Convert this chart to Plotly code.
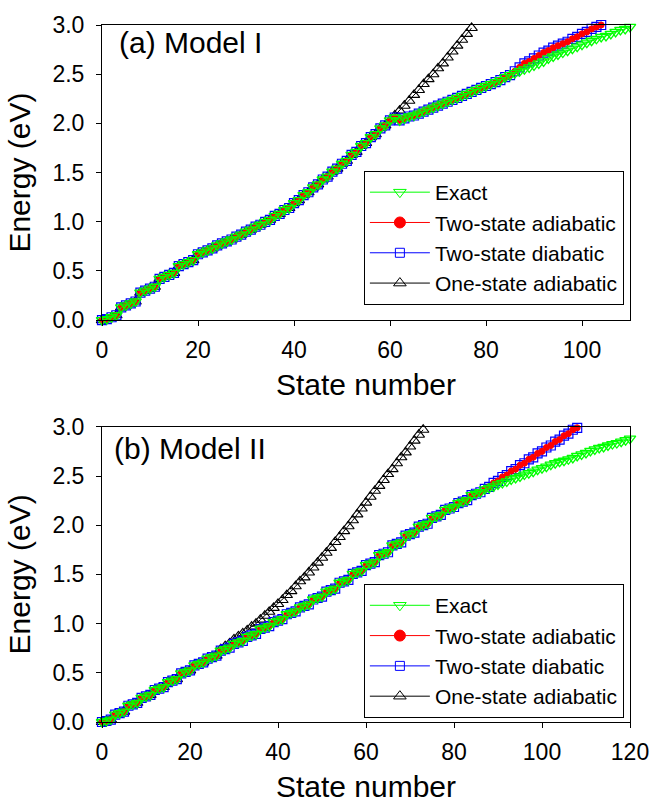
import plotly.graph_objects as go

# ---------------- data ----------------
# Model I : energies (eV) per state number
exact_I = [
    0.00, 0.01, 0.03, 0.05,   # 0-3
    0.13, 0.15, 0.17, 0.19,   # 4-7
    0.28, 0.30, 0.32, 0.34,   # 8-11
    0.42, 0.44, 0.46, 0.48,   # 12-15
    0.55, 0.57, 0.59, 0.61,   # 16-19
    0.67, 0.69, 0.71, 0.73,   # 20-23
    0.76, 0.78, 0.80, 0.82,   # 24-27
    0.85, 0.87, 0.90, 0.92,   # 28-31
    0.95, 0.97, 1.00, 1.02,   # 32-35
    1.06, 1.08, 1.12, 1.14,   # 36-39
    1.19, 1.22, 1.27, 1.30,   # 40-43
    1.35, 1.38, 1.43, 1.46,   # 44-47
    1.51, 1.54, 1.59, 1.62,   # 48-51
    1.68, 1.71, 1.77, 1.80,   # 52-55
    1.86, 1.89, 1.95, 1.98,   # 56-59
    2.03, 2.06, 2.03, 2.05,   # 60-63
    2.07, 2.08, 2.10, 2.12,   # 64-67
    2.14, 2.16, 2.18, 2.20,   # 68-71
    2.22, 2.24, 2.26, 2.28,   # 72-75
    2.30, 2.32, 2.34, 2.36,   # 76-79
    2.38, 2.40, 2.42, 2.44,   # 80-83
    2.47, 2.49, 2.51, 2.53,   # 84-87
    2.55, 2.57, 2.59, 2.61,   # 88-91
    2.63, 2.66, 2.68, 2.70,   # 92-95
    2.72, 2.74, 2.76, 2.78,   # 96-99
    2.80, 2.82, 2.84, 2.86,   # 100-103
    2.88, 2.89, 2.91, 2.93,   # 104-107
    2.95, 2.96, 2.98,         # 108-110
]
# two-state results follow the exact curve up to state 85, then:
two_state_tail_I = [2.53, 2.57, 2.61, 2.63, 2.66, 2.69, 2.72, 2.74, 2.77, 2.79,
                    2.81, 2.83, 2.86, 2.88, 2.91, 2.93, 2.96, 2.98, 3.00]  # 86-104
two_adiabatic_I = exact_I[:86] + two_state_tail_I
two_diabatic_I = exact_I[:86] + two_state_tail_I
# one-state adiabatic follows the exact curve up to state 60, then:
one_state_tail_I = [2.08, 2.13, 2.18, 2.23, 2.29, 2.34, 2.40, 2.45, 2.50, 2.56,
                    2.61, 2.67, 2.73, 2.79, 2.85, 2.91, 2.97]  # 61-77
one_adiabatic_I = exact_I[:61] + one_state_tail_I

# Model II
exact_II = [
    0.000, 0.010, 0.025, 0.075, 0.090, 0.105, 0.165, 0.180, 0.195,   # 0-8
    0.245, 0.260, 0.275, 0.325, 0.340, 0.355, 0.405, 0.420, 0.435,   # 9-17
    0.495, 0.510, 0.525, 0.575, 0.590, 0.605, 0.645, 0.660, 0.675,   # 18-26
    0.725, 0.740, 0.755, 0.795, 0.810, 0.825, 0.865, 0.880, 0.895,   # 27-35
    0.945, 0.960, 0.975, 1.015, 1.030, 1.045, 1.095, 1.110, 1.125,   # 36-44
    1.165, 1.180, 1.195, 1.245, 1.260, 1.275, 1.325, 1.340, 1.355,   # 45-53
    1.415, 1.430, 1.445, 1.505, 1.520, 1.535, 1.595, 1.610, 1.625,   # 54-62
    1.695, 1.710, 1.725, 1.795, 1.810, 1.825, 1.895, 1.910, 1.925,   # 63-71
    1.985, 2.000, 2.015, 2.075, 2.090, 2.105, 2.155, 2.170, 2.185,   # 72-80
    2.225, 2.240, 2.255, 2.305, 2.320, 2.335, 2.365, 2.380, 2.395,   # 81-89
    2.415, 2.430, 2.445, 2.465, 2.480, 2.495, 2.515, 2.530, 2.545,   # 90-98
    2.565, 2.580, 2.595, 2.615, 2.630, 2.645, 2.655, 2.670, 2.685,   # 99-107
    2.705, 2.720, 2.735, 2.755, 2.770, 2.785, 2.795, 2.810, 2.825,   # 108-116
    2.835, 2.850, 2.865, 2.880,                                      # 117-120
]
two_state_tail_II = [2.37, 2.39, 2.43, 2.45, 2.49, 2.51, 2.55, 2.57, 2.61, 2.63, 2.67,
                     2.69, 2.73, 2.75, 2.79, 2.81, 2.85, 2.87, 2.91, 2.93, 2.97, 2.99]  # 87-108
two_adiabatic_II = exact_II[:87] + two_state_tail_II
two_diabatic_II = exact_II[:87] + two_state_tail_II
one_state_tail_II = [
    0.74, 0.77, 0.80, 0.84, 0.87, 0.90, 0.93, 0.97, 1.00, 1.04,   # 27-36
    1.08, 1.12, 1.16, 1.20, 1.24, 1.29, 1.33, 1.38, 1.43, 1.47,   # 37-46
    1.52, 1.57, 1.62, 1.67, 1.72, 1.77, 1.83, 1.88, 1.94, 1.99,   # 47-56
    2.05, 2.11, 2.17, 2.23, 2.29, 2.35, 2.40, 2.46, 2.52, 2.57,   # 57-66
    2.63, 2.69, 2.74, 2.80, 2.86, 2.92, 2.97,                     # 67-73
]
one_adiabatic_II = exact_II[:27] + one_state_tail_II

series_names = ["Exact", "Two-state adiabatic", "Two-state diabatic", "One-state adiabatic"]
panel_labels = ["(a) Model I", "(b) Model II"]
x_tick_vals_I = [0, 20, 40, 60, 80, 100]
x_tick_vals_II = [0, 20, 40, 60, 80, 100, 120]
y_tick_vals = [0.0, 0.5, 1.0, 1.5, 2.0, 2.5, 3.0]

FONT = "Liberation Sans, Arial, sans-serif"

styles = {
    "Exact": dict(color="#00FF00", symbol="triangle-down-open", size=10, lsize=11, lw=1.3),
    "Two-state adiabatic": dict(color="#FF0000", symbol="circle", size=6, lsize=11, lw=1),
    "Two-state diabatic": dict(color="#0000FF", symbol="square-open", size=9, lsize=9, lw=1.2),
    "One-state adiabatic": dict(color="#000000", symbol="triangle-up-open", size=10, lsize=11, lw=1.1),
}

fig = go.Figure()

panels = [
    ("x", "y", "legend", {"Exact": exact_I, "Two-state adiabatic": two_adiabatic_I,
                          "Two-state diabatic": two_diabatic_I, "One-state adiabatic": one_adiabatic_I}),
    ("x2", "y2", "legend2", {"Exact": exact_II, "Two-state adiabatic": two_adiabatic_II,
                             "Two-state diabatic": two_diabatic_II, "One-state adiabatic": one_adiabatic_II}),
]

draw_order = ["One-state adiabatic", "Two-state diabatic", "Two-state adiabatic", "Exact"]

for xa, ya, leg, data in panels:
    for name in draw_order:
        vals = data[name]
        st = styles[name]
        fig.add_trace(go.Scatter(
            x=list(range(len(vals))), y=vals, name=name,
            mode="lines+markers", xaxis=xa, yaxis=ya, showlegend=False,
            cliponaxis=False,
            line=dict(color=st["color"], width=1),
            marker=dict(symbol=st["symbol"], size=st["size"], color=st["color"],
                        line=dict(color=st["color"], width=st["lw"])),
        ))
    # legend entries (same styles, legend-sized symbols)
    for rank, name in enumerate(series_names):
        st = styles[name]
        fig.add_trace(go.Scatter(
            x=[None], y=[None], name=name, mode="lines+markers",
            xaxis=xa, yaxis=ya, legend=leg, legendrank=rank + 1, showlegend=True,
            line=dict(color=st["color"], width=1),
            marker=dict(symbol=st["symbol"], size=st["lsize"], color=st["color"],
                        line=dict(color=st["color"], width=1)),
        ))

axis_common = dict(
    showline=True, linecolor="black", linewidth=1, mirror=True,
    ticks="outside", ticklen=5, tickwidth=1, tickcolor="black",
    showgrid=False, zeroline=False,
    tickfont=dict(family=FONT, size=23, color="black"),
)

top_dom = [0.5765, 1.0]
bot_dom = [0.0, 0.4235]
title_font = dict(family=FONT, size=30, color="black")
legend_common = dict(
    xanchor="left", yanchor="top", bgcolor="white", bordercolor="black", borderwidth=1,
    font=dict(family=FONT, size=21, color="black"), traceorder="normal", itemwidth=60,
)

fig.update_layout(
    width=661, height=812,
    margin=dict(l=102, r=21, t=16, b=90),
    paper_bgcolor="white", plot_bgcolor="white",
    font=dict(family=FONT, color="black"),
    xaxis=dict(domain=[0, 1], anchor="y", range=[0, 110], tickvals=x_tick_vals_I,
               ticklabelstandoff=4,
               title=dict(text="State number", font=title_font, standoff=12),
               **axis_common),
    yaxis=dict(domain=top_dom, anchor="x", range=[0, 3], tickvals=y_tick_vals, tickformat=".1f",
               ticklabelstandoff=7,
               title=dict(text="Energy (eV)", font=title_font, standoff=12),
               **axis_common),
    xaxis2=dict(domain=[0, 1], anchor="y2", range=[0, 120], tickvals=x_tick_vals_II,
                ticklabelstandoff=4,
                title=dict(text="State number", font=title_font, standoff=12),
                **axis_common),
    yaxis2=dict(domain=bot_dom, anchor="x2", range=[0, 3], tickvals=y_tick_vals, tickformat=".1f",
                ticklabelstandoff=7,
                title=dict(text="Energy (eV)", font=title_font, standoff=12),
                **axis_common),
    legend=dict(x=0.496, y=0.7905, **legend_common),
    legend2=dict(x=0.496, y=0.1978, **legend_common),
    showlegend=True,
    annotations=[
        dict(text=panel_labels[0], xref="paper", yref="paper", x=0.0279, y=0.9745,
             xanchor="left", yanchor="middle", showarrow=False,
             font=dict(family=FONT, size=30, color="black")),
        dict(text=panel_labels[1], xref="paper", yref="paper", x=0.0186, y=0.3924,
             xanchor="left", yanchor="middle", showarrow=False,
             font=dict(family=FONT, size=30, color="black")),
    ],
)

fig.write_html("out.html")
